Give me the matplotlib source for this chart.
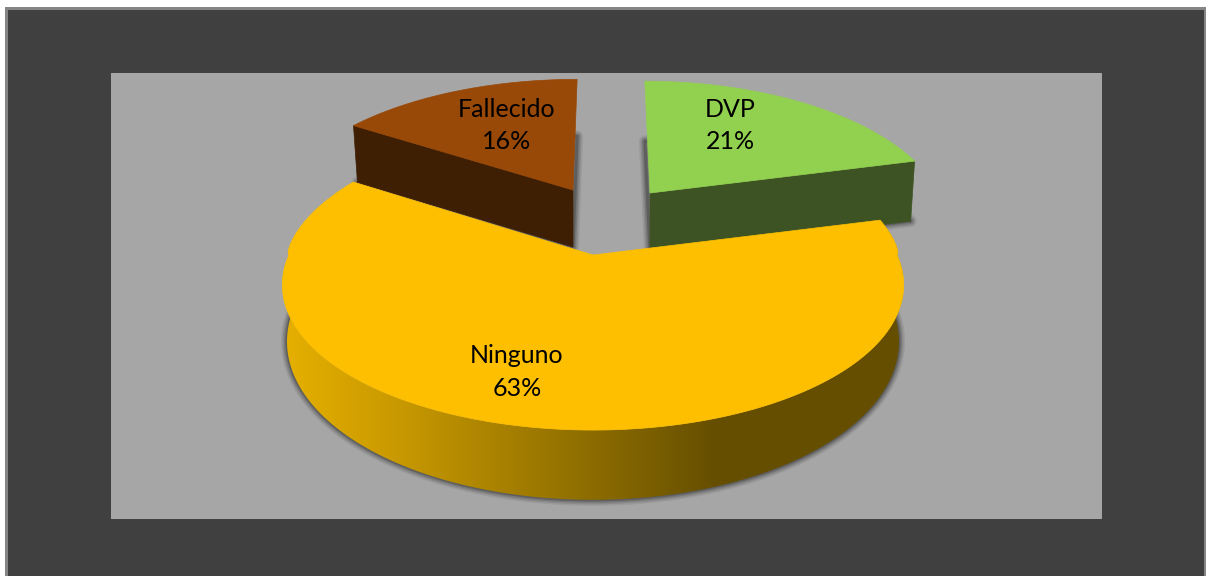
import numpy as np
import matplotlib
matplotlib.use("Agg")
import matplotlib.pyplot as plt
from matplotlib.patches import Polygon, Rectangle
from matplotlib.colors import LinearSegmentedColormap

categories = ["DVP", "Ninguno", "Fallecido"]
values = [21, 63, 16]

top_colors = {"DVP": "#92D050", "Ninguno": "#FDBF00", "Fallecido": "#984807"}
side_colors = {"DVP": "#3E5324", "Fallecido": "#3F1F03"}
# apex x, apex y, x scale, y scale, shear, depth, lower x scale, lower y scale, back bulge x, back bulge y
geometry = {
    "DVP": (650, 193, 0.95, 0.97, -0.045, 60, 0.985, 1.0, 0.0, 0.0),
    "Ninguno": (593, 255, 1.0, 1.0, 0.0, 54, 0.985, 1.09, 0.05, 0.12),
    "Fallecido": (573, 190, 0.96, 0.96, 0.036, 57, 0.982, 1.0, 0.0, 0.0),
}
label_pos = {"DVP": (730, 125.5), "Ninguno": (517, 372), "Fallecido": (507, 125.5)}

AX, AY, K = 304.0, 139.0, 0.206

plt.rcParams["font.family"] = ["Lato", "DejaVu Sans"]
fig = plt.figure(figsize=(12.06, 5.76), dpi=100, facecolor="white")
ax = fig.add_axes([0, 0, 1, 1])
ax.set_xlim(0, 1206)
ax.set_ylim(576, 0)
ax.axis("off")

ax.add_patch(Rectangle((5, 7), 1201, 569, fc="#858585", ec="none", zorder=0))
ax.add_patch(Rectangle((8, 9.5), 1196, 567, fc="#404040", ec="none", zorder=0.1))
ax.add_patch(Rectangle((111, 73), 991, 446, fc="#A6A6A6", ec="none", zorder=0.2))


def rim(name, t):
    cx, cy, sx, sy, sh, depth, lx, ly, bx, by = geometry[name]
    x, y = np.sin(t), np.cos(t)
    w = 1 + K * y
    back = np.sqrt(np.clip(y, 0, None))
    dx = AX * x / w * (1 + bx * back)
    dy = AY * y / w * (1 + by * back)
    top = np.column_stack([cx + sx * dx + sh * dy, cy - sy * dy])
    low = np.column_stack([cx + lx * (sx * dx + sh * dy), cy - ly * sy * dy + depth])
    return top, low


def shadow(poly, z):
    for lw, a in zip([12, 9, 6, 3], [0.07, 0.10, 0.14, 0.2]):
        ax.add_patch(Polygon(poly, closed=True, fc="none", ec="black", lw=lw * 0.72,
                             alpha=a, joinstyle="round", zorder=z))


fractions = np.cumsum([0] + values) / sum(values) * 2 * np.pi
z = {"DVP": 2, "Fallecido": 2, "Ninguno": 4}
for i, name in enumerate(categories):
    t = np.linspace(fractions[i], fractions[i + 1], 300)
    top, low = rim(name, t)
    cx, cy = geometry[name][:2]
    depth = geometry[name][5]
    apex_top = np.array([[cx, cy]])
    apex_low = np.array([[cx, cy + depth]])
    zz = z[name]
    shadow(np.vstack([apex_low, low]), zz - 0.5)

    if name == "Ninguno":
        side = np.vstack([top, low[::-1]])
        stops = [(0.0, "#E6B000"), (0.19, "#C79800"), (0.50, "#8C6C00"),
                 (0.70, "#654E00"), (1.0, "#654E00")]
        cmap = LinearSegmentedColormap.from_list("side", stops)
        im = ax.imshow(np.linspace(0, 1, 512)[None, :], cmap=cmap, aspect="auto",
                       extent=(283, 903, 510, 200), zorder=zz)
        clip = Polygon(side, closed=True, transform=ax.transData, fc="none", ec="none")
        ax.add_patch(clip)
        im.set_clip_path(clip)
    else:
        # straight cut face between the apex and the front end of the slice
        j = -1 if name == "DVP" else 0
        face = np.array([[cx, cy], top[j], low[j], [cx, cy + depth]])
        ax.add_patch(Polygon(face, closed=True, fc=side_colors[name], ec=side_colors[name],
                             lw=0.5, zorder=zz))
    ax.add_patch(Polygon(np.vstack([apex_top, top]), closed=True, fc=top_colors[name],
                         ec=top_colors[name], lw=0.5, zorder=zz + 0.5))
    lx, ly = label_pos[name]
    ax.text(lx, ly, f"{name}\n{values[i]}%", ha="center", va="center", fontsize=18,
            color="black", linespacing=1.5, multialignment="center", zorder=6)

ax.set_xlim(0, 1206)
ax.set_ylim(576, 0)
fig.savefig("out.png", dpi=100, facecolor="white")
